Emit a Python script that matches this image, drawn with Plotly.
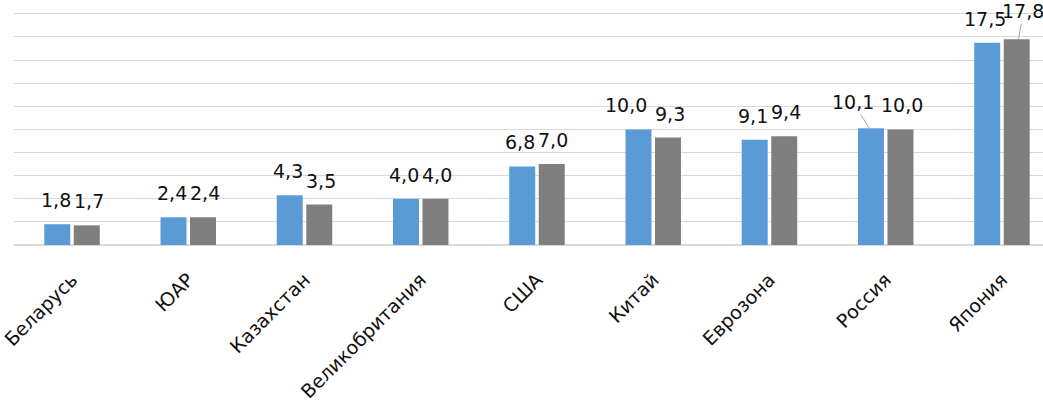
import plotly.graph_objects as go

categories = ["Беларусь", "ЮАР", "Казахстан", "Великобритания", "США",
              "Китай", "Еврозона", "Россия", "Япония"]
series_a = [1.8, 2.4, 4.3, 4.0, 6.8, 10.0, 9.1, 10.1, 17.5]
series_b = [1.7, 2.4, 3.5, 4.0, 7.0, 9.3, 9.4, 10.0, 17.8]

BLUE = "#5b9bd5"
GRAY = "#7f7f7f"
FONT = "DejaVu Sans"
TXT = "#111111"

def fmt(v):
    return f"{v:.1f}".replace(".", ",")

fig = go.Figure()
fig.add_bar(x=categories, y=series_a, marker_color=BLUE, name="A")
fig.add_bar(x=categories, y=series_b, marker_color=GRAY, name="B")

# label placement tweaks by index: leader-line offsets and small horizontal nudges
special_a = {7: (-16, -26)}
special_b = {8: (5, -28)}
nudge_a = {5: -11}
nudge_b = {}

annotations = []
for shift, vals, special, nudge in ((-16.5, series_a, special_a, nudge_a),
                                    (16.5, series_b, special_b, nudge_b)):
    for i, (c, v) in enumerate(zip(categories, vals)):
        if i in special:
            ax, ay = special[i]
            annotations.append(dict(x=c, y=v, xref="x", yref="y", xshift=shift,
                                    text=fmt(v), showarrow=True, arrowhead=0,
                                    arrowwidth=1, arrowcolor="#a6a6a6", ax=ax, ay=ay,
                                    standoff=0, font=dict(family=FONT, size=19, color=TXT)))
        else:
            annotations.append(dict(x=c, y=v, xref="x", yref="y",
                                    xshift=shift + nudge.get(i, 0), yshift=11,
                                    yanchor="bottom", text=fmt(v), showarrow=False,
                                    font=dict(family=FONT, size=19, color=TXT)))

fig.update_layout(
    template="none",
    width=1043, height=402,
    margin=dict(l=14, r=0, t=0, b=157, autoexpand=False),
    paper_bgcolor="white", plot_bgcolor="white",
    showlegend=False,
    barmode="group", bargap=0.4925, bargroupgap=0.119,
    annotations=annotations,
    font=dict(family=FONT, size=19, color=TXT),
)
fig.update_xaxes(range=[-0.499, 8.353], tickangle=-45, showgrid=False, automargin=False,
                 showline=False, ticks="", ticklabelstandoff=19,
                 tickfont=dict(family=FONT, size=19, color=TXT))
fig.update_yaxes(range=[0, 21.2], dtick=2, showticklabels=False, showgrid=True, automargin=False,
                 gridcolor="#d9d9d9", gridwidth=1.3, zeroline=True,
                 zerolinecolor="#d9d9d9", zerolinewidth=1.5, showline=False)

fig.write_html("out.html", config={"displayModeBar": False},
               post_script="document.body.style.margin='0';document.body.style.overflow='hidden';")
